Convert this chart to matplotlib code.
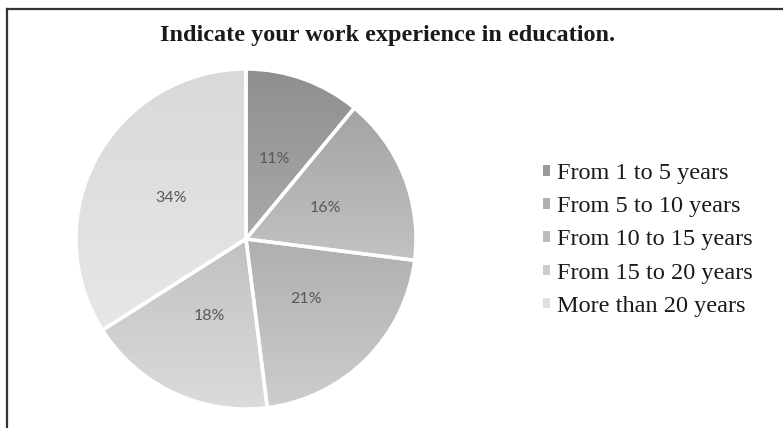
import matplotlib
matplotlib.use("Agg")
import matplotlib.pyplot as plt
from matplotlib.lines import Line2D
from matplotlib.patches import Rectangle, Wedge
import numpy as np

# data
labels = ["From 1 to 5 years", "From 5 to 10 years", "From 10 to 15 years",
          "From 15 to 20 years", "More than 20 years"]
shares = [11, 16, 21, 18, 34]

# (top, bottom) shades for each wedge's vertical gradient
top_cols = ["#8f8f91", "#a3a3a5", "#afafb1", "#c1c1c3", "#d9d9db"]
bot_cols = ["#a9a9ab", "#c2c2c4", "#cdcdcf", "#dbdbdc", "#e7e7e9"]
legend_cols = ["#9a9a9c", "#b0b0b2", "#bcbcbe", "#cccccd", "#e0e0e2"]

W, H = 783, 428
fig = plt.figure(figsize=(W / 100, H / 100), dpi=100)

# frame around the chart (only top and left edges visible)
fig.add_artist(Line2D([7 / W, 1.0], [1 - 9 / H, 1 - 9 / H], color="#333333", lw=1.6))
fig.add_artist(Line2D([7 / W, 7 / W], [0, 1 - 9 / H], color="#333333", lw=1.6))

fig.text(388 / W, 1 - 35 / H, "Indicate your work experience in education.",
         ha="center", va="center", fontsize=17.5, fontweight="bold",
         family="Liberation Serif", color="#1a1a1a")

ax = fig.add_axes([76 / W, 19 / H, 340 / W, 340 / H])
wedges, texts, autotexts = ax.pie(
    shares, startangle=90, counterclock=False, radius=1,
    autopct="%d%%", pctdistance=0.5,
    colors=legend_cols,
    wedgeprops=dict(edgecolor="white", linewidth=2.5),
    textprops=dict(color="#595959", fontsize=11.5, family="Lato"))

# vertical gradient fill clipped to each wedge
for w, c0, c1 in zip(wedges, top_cols, bot_cols):
    ext = w.get_path().get_extents()
    a = np.array(matplotlib.colors.to_rgb(c0))
    b = np.array(matplotlib.colors.to_rgb(c1))
    t = np.linspace(0, 1, 128)[:, None]
    grad = (a * (1 - t) + b * t)[:, None, :]
    im = ax.imshow(grad, extent=(ext.x0, ext.x1, ext.y0, ext.y1),
                   origin="upper", aspect="auto", zorder=w.get_zorder() + 0.1)
    im.set_clip_path(w)
    edge = Wedge(w.center, w.r, w.theta1, w.theta2, facecolor="none",
                 edgecolor="white", linewidth=2.5, zorder=w.get_zorder() + 0.2)
    ax.add_patch(edge)

for t in autotexts:
    t.set_zorder(5)

ax.set_xlim(-1.0, 1.0)
ax.set_ylim(-1.0, 1.0)
ax.set_aspect("equal")
ax.axis("off")

handles = [Rectangle((0, 0), 1, 1, facecolor=c, edgecolor="none") for c in legend_cols]
fig.legend(handles, labels, loc="center left", bbox_to_anchor=(521 / W, 1 - 240 / H),
           frameon=False, prop=dict(family="Liberation Serif", size=17.5),
           handlelength=0.3, handleheight=0.3, handletextpad=0.3,
           labelspacing=0.5, labelcolor="#1a1a1a")

fig.savefig("out.png", dpi=100)
